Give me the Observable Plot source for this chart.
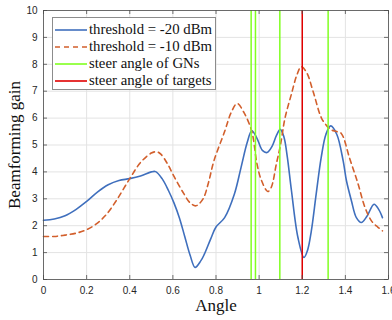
<!DOCTYPE html>
<html>
<head>
<meta charset="utf-8">
<script src="https://cdn.jsdelivr.net/npm/d3@7"></script>
<script src="https://cdn.jsdelivr.net/npm/@observablehq/plot@0.6"></script>
<style>
  body { margin: 0; background: #fff; }
  #wrap { position: relative; width: 392px; height: 320px; }
  #legend { position: absolute; left: 52px; top: 17px; width: 162px; height: 71px;
    background: #fff; border: 1px solid #8c8c8c; font-family: "Liberation Serif", "Times New Roman", serif;
    font-size: 14.8px; color: #111; }
  .row { position: absolute; left: 0; height: 17px; line-height: 17px; white-space: nowrap; }
  .row svg { position: absolute; left: 2px; top: 0; }
  .row span { position: absolute; left: 36px; top: 0; }
</style>
</head>
<body>
<div id="wrap"></div>
<script>
const xTicks = [0, 0.2, 0.4, 0.6, 0.8, 1, 1.2, 1.4, 1.6];
const yTicks = [0, 1, 2, 3, 4, 5, 6, 7, 8, 9, 10];

const seriesNames = ["threshold = -20 dBm", "threshold = -10 dBm", "steer angle of GNs", "steer angle of targets"];

const blueX = [0, 0.05, 0.1, 0.15, 0.2, 0.25, 0.3, 0.35, 0.4, 0.45, 0.5, 0.52, 0.55, 0.58, 0.605, 0.63, 0.655, 0.68, 0.703, 0.73, 0.746, 0.775, 0.8, 0.84, 0.885, 0.916, 0.945, 0.966, 0.99, 1.015, 1.037, 1.06, 1.08, 1.098, 1.115, 1.13, 1.15, 1.18, 1.208, 1.225, 1.242, 1.265, 1.288, 1.31, 1.332, 1.36, 1.39, 1.405, 1.428, 1.451, 1.474, 1.5, 1.533, 1.555, 1.572];
const blueY = [2.2, 2.25, 2.37, 2.6, 2.9, 3.25, 3.52, 3.68, 3.75, 3.85, 4.0, 4.01, 3.75, 3.3, 2.85, 2.3, 1.6, 0.9, 0.45, 0.7, 0.94, 1.5, 1.95, 2.3, 3.17, 4.16, 5.1, 5.53, 5.25, 4.8, 4.72, 4.95, 5.35, 5.58, 5.3, 4.6, 3.3, 1.56, 0.82, 1.1, 1.8, 3.2, 4.54, 5.4, 5.71, 5.4, 4.4, 3.67, 2.93, 2.3, 2.12, 2.35, 2.8, 2.6, 2.3];

const orangeX = [0, 0.05, 0.1, 0.15, 0.2, 0.25, 0.293, 0.343, 0.4, 0.45, 0.5, 0.525, 0.544, 0.575, 0.606, 0.65, 0.68, 0.707, 0.74, 0.765, 0.79, 0.84, 0.87, 0.898, 0.93, 0.966, 0.99, 1.01, 1.04, 1.056, 1.08, 1.099, 1.12, 1.15, 1.175, 1.195, 1.22, 1.25, 1.288, 1.31, 1.332, 1.36, 1.381, 1.42, 1.459, 1.49, 1.521, 1.55, 1.572];
const orangeY = [1.6, 1.6, 1.65, 1.72, 1.85, 2.1, 2.43, 3.0, 3.75, 4.35, 4.7, 4.75, 4.66, 4.3, 3.82, 3.2, 2.85, 2.74, 3.0, 3.6, 4.4, 5.5, 6.2, 6.54, 6.2, 5.5, 4.3, 3.7, 3.27, 3.42, 4.3, 5.0, 6.0, 6.9, 7.6, 7.91, 7.7, 7.0, 6.02, 5.75, 5.57, 5.5, 5.43, 4.5, 3.55, 2.7, 2.18, 1.95, 1.81];

const gnAngles = [0.963, 0.983, 1.096, 1.32];
const targetAngles = [1.2];

const blue = blueX.map((x, i) => ({x, y: blueY[i]}));
const orange = orangeX.map((x, i) => ({x, y: orangeY[i]}));

const W = 392, H = 320, mL = 43, mR = 4, mT = 10, mB = 41;
const fw = W - mL - mR, fh = H - mT - mB;
const axisColor = "#4d4d4d";
const tickFont = "Liberation Sans, Arial, Helvetica, sans-serif";
const serif = "Liberation Serif, Times New Roman, serif";

const chart = Plot.plot({
  width: W, height: H,
  marginLeft: mL, marginRight: mR, marginTop: mT, marginBottom: mB,
  style: {background: "#fff", overflow: "visible"},
  x: {domain: [0, 1.6]},
  y: {domain: [0, 10]},
  marks: [
    Plot.gridX(xTicks, {stroke: "#e3e3e3", strokeOpacity: 1}),
    Plot.gridY(yTicks, {stroke: "#e3e3e3", strokeOpacity: 1}),
    Plot.line(blue, {x: "x", y: "y", stroke: "#3f6fbd", strokeWidth: 1.6, curve: "catmull-rom"}),
    Plot.line(orange, {x: "x", y: "y", stroke: "#d25f2c", strokeWidth: 1.6, strokeDasharray: "5,4", curve: "catmull-rom"}),
    Plot.ruleX(gnAngles, {stroke: "#80ff20", strokeWidth: 1.5}),
    Plot.ruleX(targetAngles, {stroke: "#e00000", strokeWidth: 1.5}),
    Plot.frame({stroke: axisColor, strokeWidth: 0.8}),
    Plot.tickX(xTicks, {x: d => d, insetTop: fh - 4, stroke: axisColor, strokeWidth: 0.8}),
    Plot.tickX(xTicks, {x: d => d, insetBottom: fh - 4, stroke: axisColor, strokeWidth: 0.8}),
    Plot.tickY(yTicks, {y: d => d, insetRight: fw - 4, stroke: axisColor, strokeWidth: 0.8}),
    Plot.tickY(yTicks, {y: d => d, insetLeft: fw - 4, stroke: axisColor, strokeWidth: 0.8}),
    Plot.axisX(xTicks, {tickSize: 0, tickPadding: 7, label: null, tickFormat: d3.format("~g"), fontSize: 10, fontFamily: tickFont, fill: "#262626"}),
    Plot.axisY(yTicks, {tickSize: 0, tickPadding: 6, label: null, tickFormat: d3.format("~g"), fontSize: 10, fontFamily: tickFont, fill: "#262626"}),
    Plot.text(["Angle"], {text: d => d, frameAnchor: "bottom", lineAnchor: "middle", textAnchor: "middle", dy: 26.5, fontSize: 17, fontFamily: serif, fill: "#111"}),
    Plot.text(["Beamforming gain"], {text: d => d, frameAnchor: "left", lineAnchor: "middle", textAnchor: "middle", dx: -28.5, rotate: -90, fontSize: 17, fontFamily: serif, fill: "#111"})
  ]
});

const wrap = document.getElementById("wrap");
wrap.appendChild(chart);

const legendStyles = [
  {stroke: "#3f6fbd", dash: null},
  {stroke: "#d25f2c", dash: "5,4"},
  {stroke: "#80ff20", dash: null},
  {stroke: "#e00000", dash: null}
];
const legend = document.createElement("div");
legend.id = "legend";
const rowTops = [3, 20, 37, 54];
seriesNames.forEach((name, i) => {
  const row = document.createElement("div");
  row.className = "row";
  row.style.top = rowTops[i] + "px";
  const s = legendStyles[i];
  row.innerHTML = `<svg width="32" height="17"><line x1="0" x2="32" y1="9" y2="9" stroke="${s.stroke}" stroke-width="1.6" ${s.dash ? `stroke-dasharray="${s.dash}"` : ""}/></svg><span>${name}</span>`;
  legend.appendChild(row);
});
wrap.appendChild(legend);
</script>
</body>
</html>
